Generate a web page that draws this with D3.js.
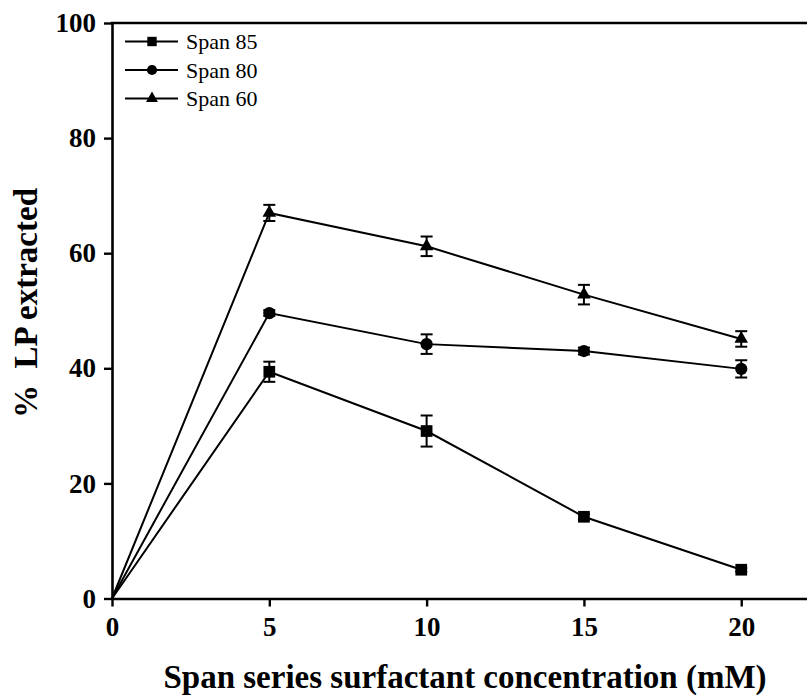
<!DOCTYPE html>
<html>
<head>
<meta charset="utf-8">
<script src="https://cdn.jsdelivr.net/npm/d3@7/dist/d3.min.js"></script>
<style>
  html, body { margin: 0; padding: 0; background: #fff; }
  svg { display: block; }
</style>
</head>
<body>
<svg id="chart" width="807" height="697"></svg>
<script>
// Surfactant concentration (mM)
const concentrations = [0, 5, 10, 15, 20];
const seriesNames = ["Span 85", "Span 80", "Span 60"];
// % LP extracted, one array per surfactant
const span85 = [0, 39.4, 29.1, 14.2, 5.0];
const span80 = [0, 49.6, 44.2, 43.0, 39.9];
const span60 = [0, 67.0, 61.2, 52.8, 45.1];
// Standard deviations
const span85Err = [0, 1.75, 2.7, 0.5, 0.3];
const span80Err = [0, 0.5, 1.7, 0.6, 1.5];
const span60Err = [0, 1.4, 1.7, 1.7, 1.35];
const xTicks = [0, 5, 10, 15, 20];
const yTicks = [0, 20, 40, 60, 80, 100];

const SERIF = "'Liberation Serif', 'Times New Roman', serif";

const series = [
  { name: seriesNames[0], values: span85, err: span85Err, symbol: d3.symbolSquare, size: 137, legendSize: 88 },
  { name: seriesNames[1], values: span80, err: span80Err, symbol: d3.symbolCircle, size: 118, legendSize: 82 },
  { name: seriesNames[2], values: span60, err: span60Err, symbol: d3.symbolTriangle, size: 80, legendSize: 62 }
];

const svg = d3.select("#chart");
const W = 807;

const x = d3.scaleLinear().domain([0, 22.1]).range([112, 807.3]);
const y = d3.scaleLinear().domain([0, 100]).range([598.5, 23]);

// Axes
const xAxis = d3.axisBottom(x).tickValues(xTicks).tickSize(8).tickSizeOuter(0).tickPadding(10);
const yAxis = d3.axisLeft(y).tickValues(yTicks).tickSize(8).tickSizeOuter(0).tickPadding(8);

const gx = svg.append("g").attr("transform", `translate(0,${y(0)})`).call(xAxis);
const gy = svg.append("g").attr("transform", `translate(${x(0)},0)`).call(yAxis);

[gx, gy].forEach(g => {
  g.attr("font-family", null).attr("font-size", null);
  g.select(".domain").attr("stroke", "#000").attr("stroke-width", 2.6);
  g.selectAll(".tick line").attr("stroke", "#000").attr("stroke-width", 2.4);
  g.selectAll(".tick text")
    .style("font-family", SERIF)
    .style("font-weight", "bold")
    .style("font-size", "27px")
    .attr("fill", "#000");
});

// Top frame line
svg.append("line")
  .attr("x1", x(0) - 1.3).attr("x2", W)
  .attr("y1", y(100)).attr("y2", y(100))
  .attr("stroke", "#000").attr("stroke-width", 2.6);

// Series lines, error bars and markers
const line = d3.line().x((d, i) => x(concentrations[i])).y(d => y(d));
const capW = 6;

series.forEach(s => {
  svg.append("path")
    .datum(s.values)
    .attr("d", line)
    .attr("fill", "none")
    .attr("stroke", "#000")
    .attr("stroke-width", 2);

  const eb = svg.append("g");
  s.values.forEach((v, i) => {
    if (i === 0) return;
    const cx = x(concentrations[i]);
    const yt = y(v + s.err[i]), yb = y(v - s.err[i]);
    eb.append("line").attr("x1", cx).attr("x2", cx).attr("y1", yt).attr("y2", yb)
      .attr("stroke", "#000").attr("stroke-width", 2);
    [yt, yb].forEach(yy => {
      eb.append("line").attr("x1", cx - capW).attr("x2", cx + capW).attr("y1", yy).attr("y2", yy)
        .attr("stroke", "#000").attr("stroke-width", 2);
    });
  });

  svg.append("g").selectAll("path")
    .data(s.values.slice(1))
    .join("path")
    .attr("transform", (d, i) => `translate(${x(concentrations[i + 1])},${y(d)})`)
    .attr("d", d3.symbol().type(s.symbol).size(s.size))
    .attr("fill", "#000");
});

// Legend
const legend = svg.append("g");
series.forEach((s, i) => {
  const ly = 41.5 + i * 28.5;
  legend.append("line").attr("x1", 125).attr("x2", 178).attr("y1", ly).attr("y2", ly)
    .attr("stroke", "#000").attr("stroke-width", 2);
  legend.append("path")
    .attr("transform", `translate(152,${ly})`)
    .attr("d", d3.symbol().type(s.symbol).size(s.legendSize))
    .attr("fill", "#000");
  legend.append("text")
    .attr("x", 186).attr("y", ly + 7.5)
    .style("font-family", SERIF)
    .style("font-size", "22px")
    .attr("fill", "#000")
    .text(s.name);
});

// Axis titles
svg.append("text")
  .attr("x", 465).attr("y", 688)
  .attr("text-anchor", "middle")
  .style("font-family", SERIF)
  .style("font-weight", "bold")
  .style("font-size", "33px")
  .attr("fill", "#000")
  .text("Span series surfactant concentration (mM)");

svg.append("text")
  .attr("transform", "translate(37,303) rotate(-90)")
  .attr("text-anchor", "middle")
  .style("font-family", SERIF)
  .style("font-weight", "bold")
  .style("font-size", "33px")
  .style("white-space", "pre")
  .attr("fill", "#000")
  .text("%  LP extracted");
</script>
</body>
</html>
